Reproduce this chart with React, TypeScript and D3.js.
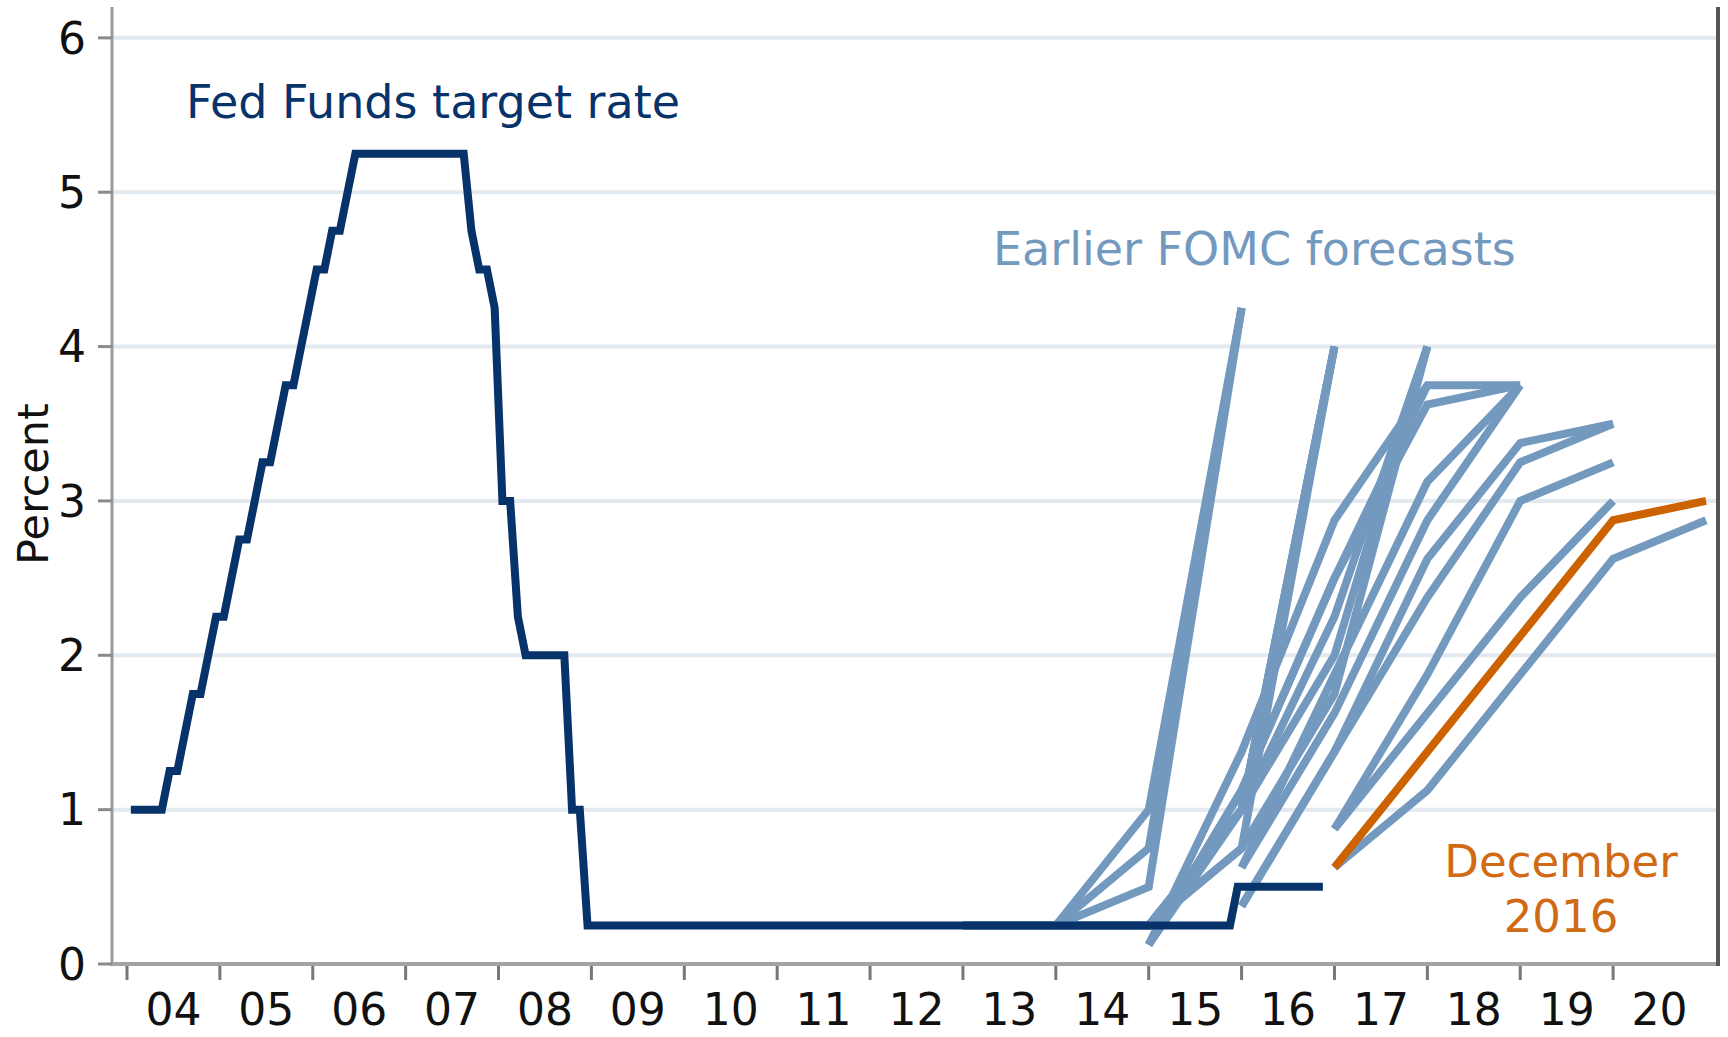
import React from 'react';
import * as d3 from 'd3';

// ---------- Data ----------
const yearLabels = ['04', '05', '06', '07', '08', '09', '10', '11', '12', '13', '14', '15', '16', '17', '18', '19', '20'];
const yTicks = [0, 1, 2, 3, 4, 5, 6];

// Fed funds target rate, end-of-month values (Jan..Dec), percent
const rate2004 = [1, 1, 1, 1, 1, 1.25, 1.25, 1.5, 1.75, 1.75, 2, 2.25];
const rate2005 = [2.25, 2.5, 2.75, 2.75, 3, 3.25, 3.25, 3.5, 3.75, 3.75, 4, 4.25];
const rate2006 = [4.5, 4.5, 4.75, 4.75, 5, 5.25, 5.25, 5.25, 5.25, 5.25, 5.25, 5.25];
const rate2007 = [5.25, 5.25, 5.25, 5.25, 5.25, 5.25, 5.25, 5.25, 4.75, 4.5, 4.5, 4.25];
const rate2008 = [3, 3, 2.25, 2, 2, 2, 2, 2, 2, 1, 1, 0.25];
const rate2009 = [0.25, 0.25, 0.25, 0.25, 0.25, 0.25, 0.25, 0.25, 0.25, 0.25, 0.25, 0.25];
const rate2010 = [0.25, 0.25, 0.25, 0.25, 0.25, 0.25, 0.25, 0.25, 0.25, 0.25, 0.25, 0.25];
const rate2011 = [0.25, 0.25, 0.25, 0.25, 0.25, 0.25, 0.25, 0.25, 0.25, 0.25, 0.25, 0.25];
const rate2012 = [0.25, 0.25, 0.25, 0.25, 0.25, 0.25, 0.25, 0.25, 0.25, 0.25, 0.25, 0.25];
const rate2013 = [0.25, 0.25, 0.25, 0.25, 0.25, 0.25, 0.25, 0.25, 0.25, 0.25, 0.25, 0.25];
const rate2014 = [0.25, 0.25, 0.25, 0.25, 0.25, 0.25, 0.25, 0.25, 0.25, 0.25, 0.25, 0.25];
const rate2015 = [0.25, 0.25, 0.25, 0.25, 0.25, 0.25, 0.25, 0.25, 0.25, 0.25, 0.25, 0.5];
const rate2016 = [0.5, 0.5, 0.5, 0.5, 0.5, 0.5, 0.5, 0.5, 0.5, 0.5, 0.5];

const fedFundsYears: [number, number[]][] = [
  [2004, rate2004], [2005, rate2005], [2006, rate2006], [2007, rate2007], [2008, rate2008],
  [2009, rate2009], [2010, rate2010], [2011, rate2011], [2012, rate2012], [2013, rate2013],
  [2014, rate2014], [2015, rate2015], [2016, rate2016],
];

// FOMC median projections: year-end values starting with the meeting year, last value = longer run
const sepJan2012 = [0.25, 0.25, 0.75, 4.25];
const sepApr2012 = [0.25, 0.25, 1.0, 4.25];
const sepJun2012 = [0.25, 0.25, 0.5, 4.25];
const sepSep2012 = [0.25, 0.25, 0.25, 0.75, 4.0];
const sepDec2012 = [0.25, 0.25, 0.25, 1.0, 4.0];
const sepMar2013 = [0.25, 0.25, 1.0, 4.0];
const sepJun2013 = [0.25, 0.25, 1.0, 4.0];
const sepSep2013 = [0.25, 0.25, 1.0, 2.0, 4.0];
const sepDec2013 = [0.25, 0.25, 0.75, 1.75, 4.0];
const sepMar2014 = [0.125, 1.0, 2.25, 4.0];
const sepJun2014 = [0.125, 1.125, 2.5, 3.75];
const sepSep2014 = [0.125, 1.375, 2.875, 3.75, 3.75];
const sepDec2014 = [0.125, 1.125, 2.5, 3.625, 3.75];
const sepMar2015 = [0.625, 1.875, 3.125, 3.75];
const sepJun2015 = [0.625, 1.625, 2.875, 3.75];
const sepSep2015 = [0.375, 1.375, 2.625, 3.375, 3.5];
const sepDec2015 = [0.375, 1.375, 2.375, 3.25, 3.5];
const sepMar2016 = [0.875, 1.875, 3.0, 3.25];
const sepJun2016 = [0.875, 1.625, 2.375, 3.0];
const sepSep2016 = [0.625, 1.125, 1.875, 2.625, 2.875];
const sepDec2016 = [0.625, 1.375, 2.125, 2.875, 3.0];

const earlierForecasts: [number, number[]][] = [
  [2012, sepJan2012], [2012, sepApr2012], [2012, sepJun2012], [2012, sepSep2012], [2012, sepDec2012],
  [2013, sepMar2013], [2013, sepJun2013], [2013, sepSep2013], [2013, sepDec2013],
  [2014, sepMar2014], [2014, sepJun2014], [2014, sepSep2014], [2014, sepDec2014],
  [2015, sepMar2015], [2015, sepJun2015], [2015, sepSep2015], [2015, sepDec2015],
  [2016, sepMar2016], [2016, sepJun2016], [2016, sepSep2016],
];
const latestForecast: [number, number[]] = [2016, sepDec2016];

// ---------- Layout ----------
const W = 1728;
const H = 1037;
const plotLeft = 112;
const plotRight = 1718;
const plotTop = 7;
const plotBottom = 964;

const NAVY = '#07336a';
const LIGHT = '#7499bf';
const ORANGE = '#cc6300';
const FONT = '"DejaVu Sans", Verdana, sans-serif';

export default function App() {
  const x = d3.scaleLinear().domain([2004, 2021]).range([127, 1706]);
  const y = d3.scaleLinear().domain([0, 6.2]).range([plotBottom, plotTop]);

  const fedPoints: [number, number][] = [];
  fedFundsYears.forEach(([yr, vals]) => {
    vals.forEach((v, m) => fedPoints.push([yr + (m + 0.5) / 12, v]));
  });

  const line = d3.line<[number, number]>().x((d) => x(d[0])).y((d) => y(d[1]));
  const fcPoints = (f: [number, number[]]): [number, number][] =>
    f[1].map((v, i) => [f[0] + 1 + i, v]);

  const tickYears = d3.range(2004, 2021);

  return (
    <svg width={W} height={H} style={{ position: 'absolute', left: 0, top: 0, display: 'block', background: '#fff' }}
      fontFamily={FONT}>
      <rect x={0} y={0} width={W} height={H} fill="#ffffff" />
      {/* gridlines */}
      {yTicks.filter((t) => t > 0).map((t) => (
        <line key={'g' + t} x1={plotLeft} x2={plotRight} y1={y(t)} y2={y(t)} stroke="#e2e9ef" strokeWidth={4} />
      ))}
      {/* earlier forecasts */}
      {earlierForecasts.map((f, i) => (
        <path key={'f' + i} d={line(fcPoints(f)) || ''} fill="none" stroke={LIGHT} strokeWidth={8}
          strokeLinejoin="miter" strokeLinecap="butt" />
      ))}
      {/* latest forecast */}
      <path d={line(fcPoints(latestForecast)) || ''} fill="none" stroke={ORANGE} strokeWidth={8}
        strokeLinejoin="miter" strokeLinecap="butt" />
      {/* fed funds */}
      <path d={line(fedPoints) || ''} fill="none" stroke={NAVY} strokeWidth={8}
        strokeLinejoin="miter" strokeLinecap="butt" />

      {/* axes */}
      <line x1={plotLeft} x2={plotLeft} y1={plotTop} y2={plotBottom + 2} stroke="#9a9a9a" strokeWidth={3} />
      <line x1={plotLeft} x2={plotRight} y1={plotBottom} y2={plotBottom} stroke="#a3a3a3" strokeWidth={4} />
      <line x1={plotRight} x2={plotRight} y1={plotTop} y2={plotBottom + 2} stroke="#555555" strokeWidth={4} />

      {/* y ticks & labels */}
      {yTicks.map((t) => (
        <g key={'y' + t}>
          <line x1={98} x2={plotLeft} y1={y(t)} y2={y(t)} stroke="#8a8a8a" strokeWidth={3} />
          <text x={86} y={y(t)} dy="0.36em" textAnchor="end" fontSize={44} fill="#111">{t}</text>
        </g>
      ))}
      {/* x ticks & labels */}
      {tickYears.map((yr) => (
        <line key={'xt' + yr} x1={x(yr)} x2={x(yr)} y1={plotBottom + 2} y2={plotBottom + 16} stroke="#777" strokeWidth={3} />
      ))}
      {yearLabels.map((lab, i) => (
        <text key={'xl' + lab} x={x(2004 + i + 0.5)} y={1025} textAnchor="middle" fontSize={44} fill="#111">{lab}</text>
      ))}

      {/* axis title */}
      <text transform={`translate(48, 484) rotate(-90)`} textAnchor="middle" fontSize={43} fill="#111">Percent</text>

      {/* annotations */}
      <text x={186} y={118} fontSize={46} fill={NAVY}>Fed Funds target rate</text>
      <text x={993} y={265} fontSize={46} fill={LIGHT}>Earlier FOMC forecasts</text>
      <text x={1561} y={877} textAnchor="middle" fontSize={45} fill="#d06a14">December</text>
      <text x={1561} y={932} textAnchor="middle" fontSize={45} fill="#d06a14">2016</text>
    </svg>
  );
}
